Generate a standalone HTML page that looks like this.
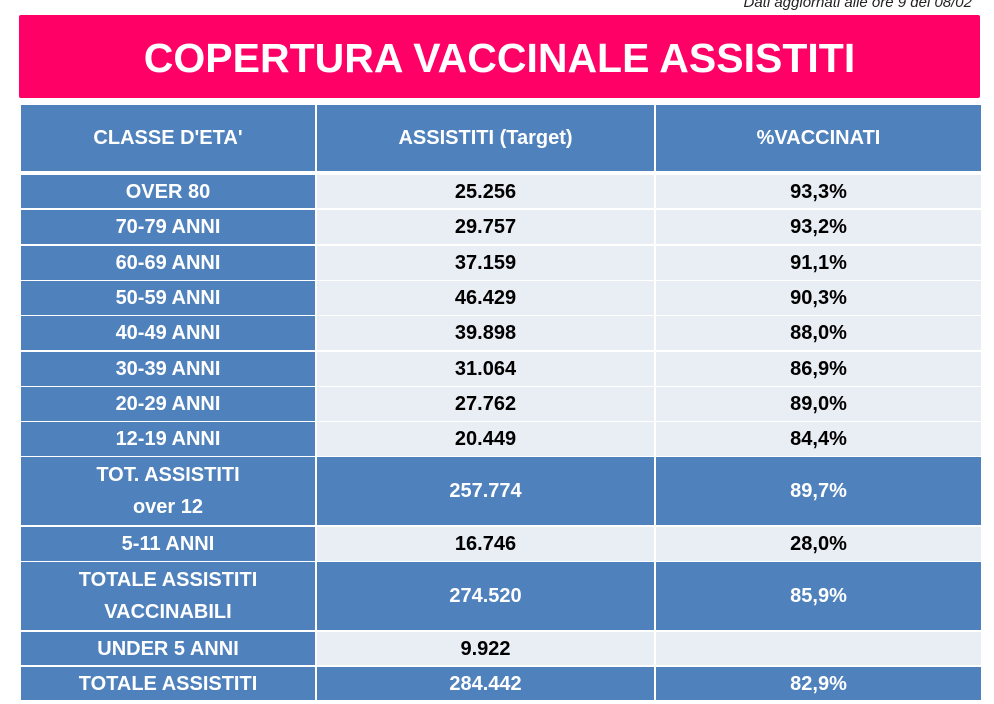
<!DOCTYPE html>
<html><head><meta charset="utf-8"><style>
body{margin:0;width:994px;height:704px;background:#fff;position:relative;overflow:hidden;font-family:"Liberation Sans",Arial,sans-serif;font-weight:bold}
.note{position:absolute;right:22px;top:-6px;font-size:15px;font-style:italic;font-weight:normal;color:#222}
.title{position:absolute;left:19px;top:15px;width:961px;height:83px;background:#ff0066;color:#fff;font-size:41px;text-align:center;line-height:86px;border-radius:2px}
.c{position:absolute;display:flex;align-items:center;justify-content:center;text-align:center;font-size:20px;line-height:32px;box-sizing:border-box}
.b{background:#4f81bd;color:#fff}
.l{background:#e9edf4;color:#000}
</style></head><body>
<div class="note">Dati aggiornati alle ore 9 del 08/02</div>
<div class="title">COPERTURA VACCINALE ASSISTITI</div>
<div id="t"></div>
<script>
var cols=[[21,294],[317,337],[656,325]];
var rows=[
[105,66,["CLASSE D'ETA'","ASSISTITI (Target)","%VACCINATI"],1],
[175,33,["OVER 80","25.256","93,3%"],0],
[210,34,["70-79 ANNI","29.757","93,2%"],0],
[246,34,["60-69 ANNI","37.159","91,1%"],0],
[281,34,["50-59 ANNI","46.429","90,3%"],0],
[316,34,["40-49 ANNI","39.898","88,0%"],0],
[352,34,["30-39 ANNI","31.064","86,9%"],0],
[387,34,["20-29 ANNI","27.762","89,0%"],0],
[422,34,["12-19 ANNI","20.449","84,4%"],0],
[457,68,["TOT. ASSISTITI<br>over 12","257.774","89,7%"],1],
[527,34,["5-11 ANNI","16.746","28,0%"],0],
[562,68,["TOTALE ASSISTITI<br>VACCINABILI","274.520","85,9%"],1],
[632,33,["UNDER 5 ANNI","9.922",""],0],
[667,33,["TOTALE ASSISTITI","284.442","82,9%"],1]];
var h="";
rows.forEach(function(r){for(var i=0;i<3;i++){var cls=(r[3]||i==0)?"b":"l";
h+='<div class="c '+cls+'" style="left:'+cols[i][0]+'px;top:'+r[0]+'px;width:'+cols[i][1]+'px;height:'+r[1]+'px">'+r[2][i]+'</div>';}});
document.getElementById("t").innerHTML=h;
</script>
</body></html>
